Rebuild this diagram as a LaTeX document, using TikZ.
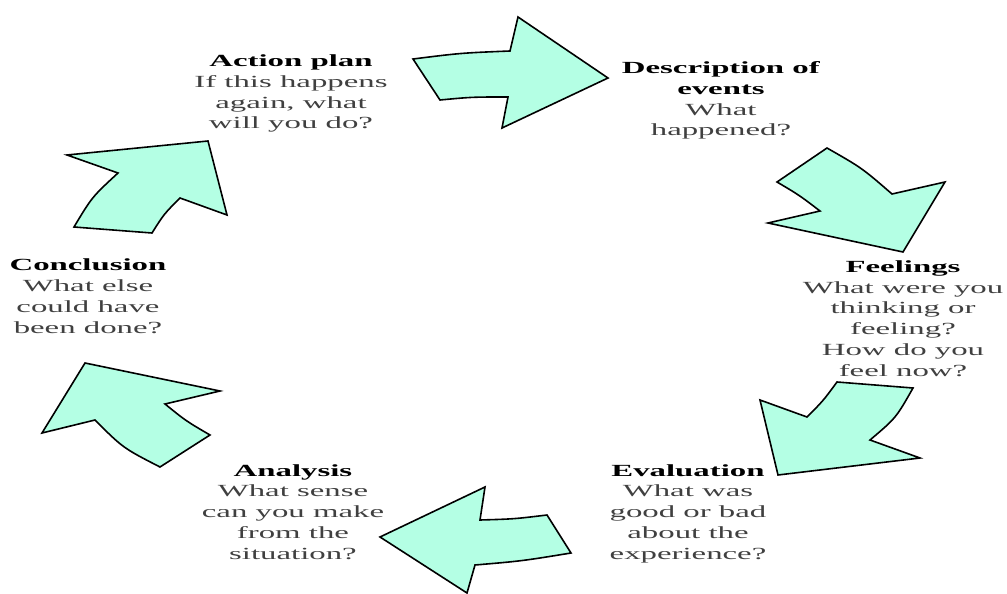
\documentclass[tikz,border=0pt]{standalone}
\usepackage{fontspec}
\newfontfamily\cyclefont[FakeStretch=1.93]{Liberation Serif}
\definecolor{arrowfill}{RGB}{180,255,228}

\begin{document}
\begin{tikzpicture}
        [x=1bp, y=-1bp,
        every node/.style={align=center, anchor=base, inner sep=0, text=black!75, font=\cyclefont\fontsize{17bp}{20.7bp}\selectfont},
        cyclearrow/.style={draw=black, line width=1.6bp, line join=miter, fill=arrowfill}]

        \useasboundingbox (0,0) rectangle (1007,594);

        % base anchor sits on the last line
        \node (plan) at (291,129) {{\color{black}\textbf{Action plan}}\\If this happens\\again, what\\will you do?};
        \node (events) at (721,136) {{\color{black}\textbf{Description of}}\\{\color{black}\textbf{events}}\\What\\happened?};
        \node (feelings) at (903,376) {{\color{black}\textbf{Feelings}}\\What were you\\thinking or\\feeling?\\How do you\\feel now?};
        \node (evaluation) at (688,559) {{\color{black}\textbf{Evaluation}}\\What was\\good or bad\\about the\\experience?};
        \node (analysis) at (293,559) {{\color{black}\textbf{Analysis}}\\What sense\\can you make\\from the\\situation?};
        \node (conclusion) at (88,333) {{\color{black}\textbf{Conclusion}}\\What else\\could have\\been done?};

        % arrows round the cycle
        \draw[cyclearrow] (413,59) .. controls (461,53) .. (510,51) -- (518,17) -- (608,78) -- (502,128) -- (508,97) .. controls (472,97) .. (440,100) -- cycle;
        \draw[cyclearrow] (827,148) .. controls (862,168) .. (892,194) -- (945,182) -- (903,252) -- (768,223) -- (820,211) .. controls (799,195) .. (777,182) -- cycle;
        \draw[cyclearrow] (760,400) -- (807,417) .. controls (823,401) .. (837,382) -- (913,388) .. controls (896,418) .. (870,440) -- (920,458) -- (778,475) -- cycle;
        \draw[cyclearrow] (485,487) -- (480,520) .. controls (514,519) .. (547,515) -- (571,553) .. controls (522,561) .. (475,565) -- (467,593) -- (380,537) -- cycle;
        \draw[cyclearrow] (85,363) -- (220,391) -- (165,404) .. controls (186,421) .. (210,435) -- (160,467) .. controls (123,448) .. (95,420) -- (42,433) -- cycle;
        \draw[cyclearrow] (67,155) -- (208,141) -- (227,215) -- (180,198) .. controls (164,214) .. (152,233) -- (74,227) .. controls (92,197) .. (118,173) -- cycle;

      \end{tikzpicture}
\end{document}
